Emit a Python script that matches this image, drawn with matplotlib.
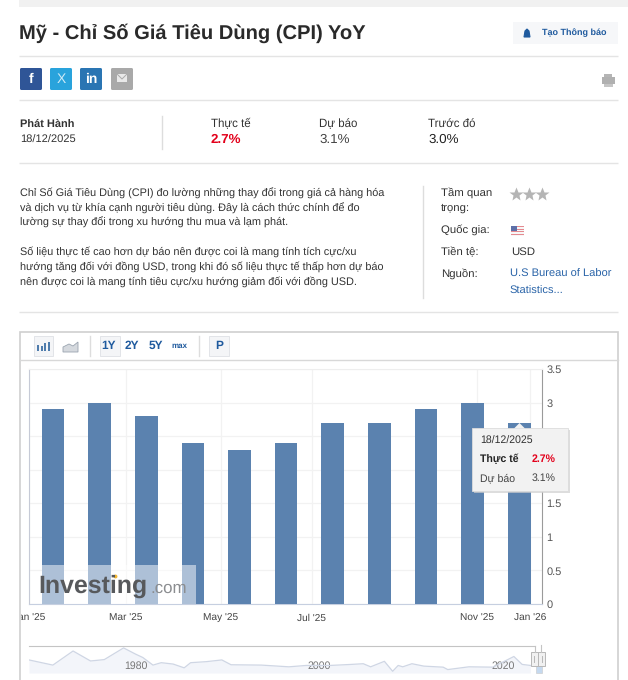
import matplotlib
matplotlib.use("Agg")
import matplotlib.pyplot as plt
from matplotlib.patches import Rectangle, FancyBboxPatch, Polygon
from matplotlib.transforms import Bbox

plt.rcParams['font.family'] = ['Liberation Sans', 'DejaVu Sans']
plt.rcParams['text.hinting'] = 'none'

months = ["Jan '25", "Feb '25", "Mar '25", "Apr '25", "May '25", "Jun '25", "Jul '25",
          "Aug '25", "Sep '25", "Oct '25", "Dec '25"]
actual = [2.9, 3.0, 2.8, 2.4, 2.3, 2.4, 2.7, 2.7, 2.9, 3.0, 2.7]
y_ticks = [0, 0.5, 1, 1.5, 2, 2.5, 3, 3.5]
y_labels = ["0", "0.5", "1", "1.5", "", "", "3", "3.5"]   # 2 and 2.5 sit behind the tooltip
x_tick_labels = ["Jan '25", "Mar '25", "May '25", "Jul '25", "Nov '25", "Jan '26"]
x_tick_pos = [-0.515, 1.57, 3.6, 5.55, 9.1, 10.24]
nav_years = [1968.4, 1971, 1973.2, 1975.1, 1976.6, 1978.7, 1980, 1980.8, 1981.9, 1982.8, 1984.1,
             1985.3, 1986, 1987.7, 1989.4, 1990.4, 1993.7, 1996.7, 1998.6, 2001.2, 2003.5, 2004.8,
             2005.6, 2007.1, 2008, 2008.6, 2009.1, 2010.1, 2011.4, 2013.5, 2014, 2016.3, 2018.9,
             2021.2, 2022.1, 2023]
nav_cpi = [7.6, 4.6, 12.8, 7, 7.8, 14.6, 11, 9, 4.6, 6, 5.2, 3, 6, 6.6, 7.6, 4.8, 4.6, 3.6, 4.4,
           4.4, 5, 5.4, 3.6, 6.8, 1, 4.4, 3.6, 5.4, 4, 3.4, 2, 3.6, 3.4, 9.6, 5, 4.4]
nav_ticks = [1980, 2000, 2020]

W, H = 628, 680
fig = plt.figure(figsize=(W / 100, H / 100), dpi=100, facecolor='white')
page = fig.add_axes([0, 0, 1, 1], zorder=0)
page.set_xlim(0, W); page.set_ylim(H, 0); page.axis('off')

def T(x, y, s, size=8.6, color='#333333', **kw):
    kw.setdefault('va', 'center'); kw.setdefault('ha', 'left')
    return page.text(x, y, s, fontsize=size, color=color, **kw)

def R(x, y, w, h, fc, ec='none', lw=0, z=1, p=page):
    p.add_patch(Rectangle((x, y), w, h, fc=fc, ec=ec, lw=lw, zorder=z))

def HL(y, x0=19, x1=618, c='#e4e4e4', lw=1):
    page.plot([x0, x1], [y, y], color=c, lw=lw, solid_capstyle='butt')

# top band and dividers
R(19, 0, 609, 7, '#f1f1f1')
T(19, 33, "Mỹ - Chỉ Số Giá Tiêu Dùng (CPI) YoY", 14.5, '#2a2a2a', fontweight='bold')
HL(56); HL(100); HL(163); HL(312)
page.plot([162, 162], [116, 149], color='#dddddd', lw=1)
page.plot([423, 423], [186, 298], color='#dddddd', lw=1)

# alert button
R(513, 22, 105, 22, '#f6f7f9')
page.add_patch(Polygon([(524, 37), (525, 31), (527, 29), (529, 31), (530, 37)], fc='#1f5a9e', ec='#1f5a9e', lw=0.8))
T(542, 33, "Tạo Thông báo", 6.5, '#1f5a9e', fontweight='bold')

# share buttons
for x, c, s, fw in [(19, '#2f5597', 'f', 'bold'), (49, '#29a3dc', 'X', 'normal'),
                    (79, '#2a75b3', 'in', 'bold'), (110, '#a9a9a9', '', 'normal')]:
    page.add_patch(FancyBboxPatch((x + 1, 68), 22, 22, boxstyle='round,pad=0,rounding_size=1.5', fc=c, ec='none'))
    if s:
        T(x + 12, 79, s, 10, 'white' if s != 'X' else '#cdeaf7', ha='center', fontweight=fw)
R(117, 74, 10, 8, '#e9e9e9')
page.plot([117, 122, 127], [74, 79, 74], color='#a9a9a9', lw=0.7)
# printer
R(604, 74, 8, 3, '#b5b5b5'); R(602, 77, 13, 7, '#b0b0b0'); R(604, 84, 9, 3, '#c5c5c5')

# release row
T(20, 124, "Phát Hành", 7.9, '#333333', fontweight='semibold')
T(20, 140, "18/12/2025", 8.0, '#333333')
T(211, 124, "Thực tế", 8.3, '#333333')
T(211, 140, "2.7%", 9.6, '#e3001b', fontweight='bold')
T(319, 124, "Dự báo", 8.3, '#333333')
T(319, 140, "3.1%", 9.6, '#444444')
T(428, 124, "Trước đó", 8.3, '#333333')
T(428, 140, "3.0%", 9.6, '#222222')

# description
lines = [(193, "Chỉ Số Giá Tiêu Dùng (CPI) đo lường những thay đổi trong giá cả hàng hóa"),
         (208, "và dịch vụ từ khía cạnh người tiêu dùng. Đây là cách thức chính để đo"),
         (222, "lường sự thay đổi trong xu hướng thu mua và lạm phát."),
         (252, "Số liệu thực tế cao hơn dự báo nên được coi là mang tính tích cực/xu"),
         (267, "hướng tăng đối với đồng USD, trong khi đó số liệu thực tế thấp hơn dự báo"),
         (282, "nên được coi là mang tính tiêu cực/xu hướng giảm đối với đồng USD.")]
for y, s in lines:
    T(20, y, s, 7.85, '#333333')

T(441, 193, "Tầm quan", 8.2); T(441, 208, "trọng:", 8.2)
T(441, 230, "Quốc gia:", 8.2); T(441, 252, "Tiền tệ:", 8.2); T(441, 274, "Nguồn:", 8.2)
page.plot([516, 529, 542], [194, 194, 194], ls='none', marker='*', ms=10, color='#b5b5b5', mec='none')
# flag
R(511, 226, 13, 10, '#f7f7f7')
for y in (226, 228.5, 231, 233.5):
    R(511, y, 13, 1.3, '#e58a90', z=2)
R(511, 226, 6, 5, '#5d6fa8', z=3)
T(511, 252, "USD", 8.2)
T(510, 274, "U.S Bureau of Labor", 8.05, '#2a64a8')
T(510, 291, "Statistics...", 8.05, '#2a64a8')

# chart frame
R(20, 332, 598, 360, 'white', ec='#cfcfcf', lw=1.2, z=1)
page.plot([20, 618], [360, 360], color='#d8d8d8', lw=1, zorder=2)
for x in (90, 199):
    page.plot([x, x], [336, 356], color='#dddddd', lw=1, zorder=2)
for x, w in [(34, 19), (100, 20), (209, 20)]:
    page.add_patch(Rectangle((x, 336), w, 20, fc='#f4f5f7', ec='#e2e4e8', lw=0.7, zorder=2))
for x, h in [(38, 6), (41.5, 5), (45, 8), (48.5, 9)]:
    R(x - 1, 351 - h, 2.4, h, '#4f7cac', z=3)
page.add_patch(Polygon([(63, 352), (63, 347), (69, 344), (73, 346), (78, 342), (78, 352)], fc='#d5d9de', ec='#9aa4b0', lw=0.6, zorder=3))
for x, s, size in [(109, '1Y', 8.6), (132, '2Y', 8.6), (156, '5Y', 8.6), (179, 'max', 5.8)]:
    page.text(x, 346, s, fontsize=size, color='#1f5a9e', ha='center', va='center', fontweight='bold', zorder=4)
page.text(219, 346, 'P', fontsize=8.6, color='#1f5a9e', ha='center', va='center', fontweight='bold', zorder=4)

# main chart
ax_l, ax_r, ax_t, ax_b = 29, 542, 369, 604
ax = fig.add_axes([ax_l / W, 1 - ax_b / H, (ax_r - ax_l) / W, (ax_b - ax_t) / H], zorder=2)
ax.patch.set_alpha(0)
xs = list(range(len(months)))
ax.bar(xs, actual, width=0.487, color='#5b82af', zorder=3)
ax.set_xlim(-0.515, 10.49); ax.set_ylim(0, 3.5)
ax.yaxis.tick_right()
ax.set_yticks(y_ticks); ax.set_yticklabels(y_labels, fontsize=7.9, color='#555555')
ax.set_xticks(x_tick_pos); ax.set_xticklabels(x_tick_labels, fontsize=7.3, color='#444444')
ax.tick_params(length=0, pad=3)
ax.tick_params(axis='x', pad=7)
ax.grid(True, color='#f2f2f2', lw=0.9, zorder=0)
ax.set_axisbelow(True)
ax.spines['top'].set_color('#eeeeee')
ax.spines['left'].set_color('#c6cad6')
ax.spines['bottom'].set_color('#c6cfe0')
ax.spines['right'].set_color('#9a9a9a')
for lab in ax.get_xticklabels():
    lab.set_clip_on(True)
    lab.set_clip_box(Bbox([[21, 0], [W, H]]))

# overlay layer for watermark, tooltip
top = fig.add_axes([0, 0, 1, 1], zorder=5)
top.set_xlim(0, W); top.set_ylim(H, 0); top.axis('off'); top.patch.set_alpha(0)
top.add_patch(Rectangle((42, 565), 154, 39, fc='white', alpha=0.5, ec='none'))
top.text(38, 586, "Investing", fontsize=17.9, color='#57595c', fontweight='bold', va='center')
top.text(150, 588, ".com", fontsize=12.2, color='#8b8d90', va='center')
top.plot([115], [575.5], marker='o', ms=2.8, color='#f2b632', mec='none')
# tooltip
top.add_patch(Rectangle((474, 430), 96, 63, fc='#cfcfcf', alpha=0.7, ec='none'))
top.add_patch(Rectangle((472, 428), 96, 63, fc='#f2f2f2', ec='#dcdcdc', lw=0.6))
top.add_patch(Polygon([(514, 428.5), (519.5, 423), (525, 428.5)], fc='#f2f2f2', ec='none'))
top.text(480, 441, "18/12/2025", fontsize=7.6, color='#333333', va='center')
top.text(480, 459, "Thực tế", fontsize=7.6, color='#222222', fontweight='bold', va='center')
top.text(556, 459, "2.7%", fontsize=7.6, color='#e3001b', fontweight='bold', va='center', ha='right')
top.text(480, 478, "Dự báo", fontsize=7.6, color='#444444', va='center')
top.text(556, 478, "3.1%", fontsize=7.6, color='#444444', va='center', ha='right')

# navigator
nl, nr, nt, nb = 29, 535, 645.5, 673
nav = fig.add_axes([nl / W, 1 - nb / H, (nr - nl) / W, (nb - nt) / H], zorder=3)
nav.patch.set_alpha(0)
nav.set_xlim(1968.4, 2023.5); nav.set_ylim(0, 16)
nav.fill_between(nav_years, nav_cpi, 0, color='#f3f5fa', lw=0)
nav.plot(nav_years, nav_cpi, color='#cfd6e4', lw=0.9)
nav.set_xticks(nav_ticks); nav.set_xticklabels([str(v) for v in nav_ticks], fontsize=7.6, color='#777777')
nav.tick_params(axis='x', direction='in', length=0, pad=-8.6)
nav.set_yticks([])
for s in ('left', 'right', 'bottom'):
    nav.spines[s].set_visible(False)
nav.spines['top'].set_color('#c4c4c4')
# range handle
top.add_patch(Rectangle((536, 666), 6, 7, fc='#c5d9ef', ec='#c8c8c8', lw=0.4))
top.plot([535, 535], [646, 652], color='#c4c4c4', lw=0.8)
top.plot([541, 541], [645, 652], color='#c4c4c4', lw=0.8)
for x, w in ((531, 6.5), (538, 7)):
    top.add_patch(Rectangle((x, 652), w, 14, fc='#f1f1f1', ec='#b8b8b8', lw=0.7))
    top.plot([x + w / 2, x + w / 2], [656, 662], color='#b8b8b8', lw=0.7)

fig.savefig('out.png', dpi=100, facecolor='white')
